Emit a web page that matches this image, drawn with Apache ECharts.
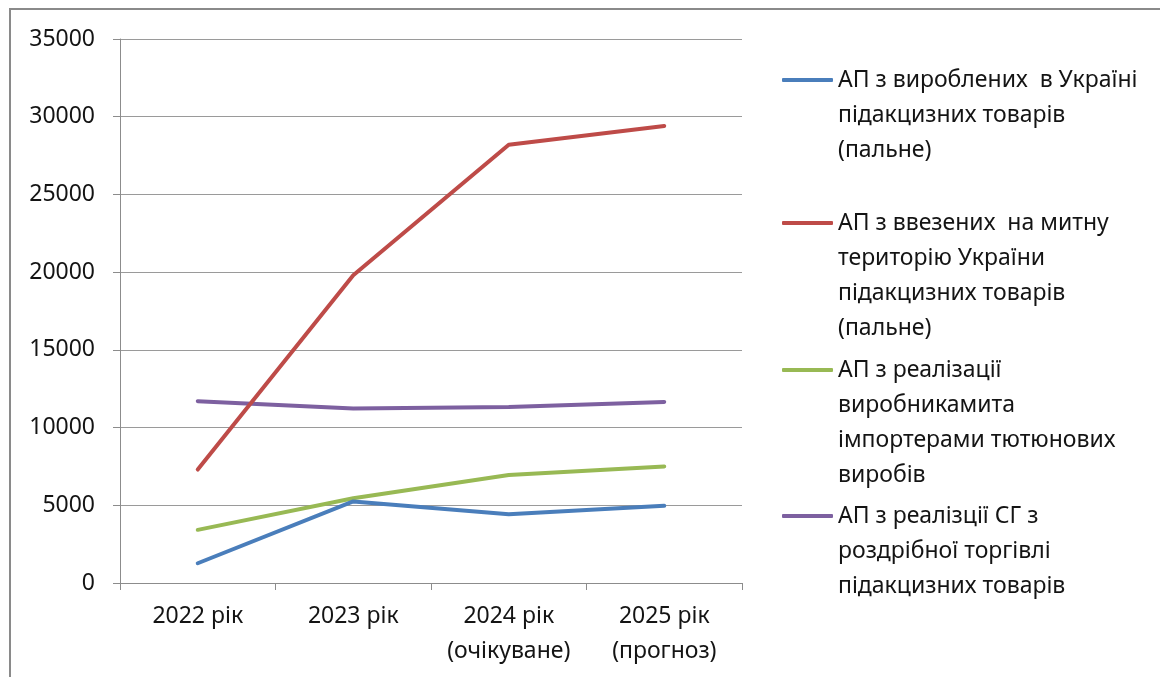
<!DOCTYPE html>
<html>
<head>
<meta charset="utf-8">
<script src="https://cdn.jsdelivr.net/npm/echarts@6/dist/echarts.min.js"></script>
<style>
    html, body { margin: 0; padding: 0; background: #fff; }
    #chart { width: 1160px; height: 677px; }
</style>
</head>
<body>
<div id="chart"></div>
<script>
const YEARS = ["2022 рік", "2023 рік", "2024 рік\n(очікуване)", "2025 рік\n(прогноз)"];
const NAMES = [
    "АП з вироблених  в Україні\nпідакцизних товарів\n(пальне)",
    "АП з ввезених  на митну\nтериторію України\nпідакцизних товарів\n(пальне)",
    "АП з реалізації\nвиробникамита\nімпортерами тютюнових\nвиробів",
    "АП з реалізції СГ з\nроздрібної торгівлі\nпідакцизних товарів",
];
const COLORS = ["#4a7ebb", "#be4b48", "#98b954", "#7d60a0"];
const domestic = [1270, 5250, 4420, 4970];
const imported = [7300, 19800, 28200, 29400];
const tobacco = [3420, 5450, 6950, 7500];
const retail = [11700, 11220, 11320, 11650];
const SERIES_DATA = [domestic, imported, tobacco, retail];

const FONT = "Noto Sans";
const FONT_SIZE = 23;
const LINE_H = 35;
const LEGEND_Y = [80, 223, 370, 516]; // centre of first text line

const chart = echarts.init(document.getElementById("chart"));

// legend text is centred on the icon, so pad the top with empty lines
// to line the icon up with the first line of each entry
const legends = NAMES.map((name, i) => {
    const n = name.split("\n").length;
    return {
        data: [name],
        orient: "vertical",
        left: 782,
        top: LEGEND_Y[i] - (2 * n - 1) * LINE_H / 2,
        padding: 0,
        icon: "roundRect",
        itemWidth: 51,
        itemHeight: 4,
        selectedMode: false,
        formatter: (s) => "\n".repeat(n - 1) + s,
        textStyle: {
            fontFamily: FONT,
            fontSize: FONT_SIZE,
            color: "#141414",
            lineHeight: LINE_H,
        },
    };
});

chart.setOption({
    animation: false,
    backgroundColor: "#fff",
    textStyle: { fontFamily: FONT },
    graphic: [{
        type: "rect",
        shape: { x: 10, y: 9, width: 1300, height: 800 },
        style: { fill: "none", stroke: "#8a8a8a", lineWidth: 2 },
        silent: true,
    }],
    legend: legends,
    grid: { left: 120, right: 418, top: 39, bottom: 94 },
    xAxis: {
        type: "category",
        data: YEARS,
        boundaryGap: true,
        axisLine: { lineStyle: { color: "#8c8c8c", width: 1 } },
        axisTick: { show: true, length: 7, lineStyle: { color: "#8c8c8c" } },
        axisLabel: {
            color: "#141414",
            fontFamily: FONT,
            fontSize: FONT_SIZE,
            lineHeight: LINE_H,
            margin: 16,
            interval: 0,
        },
    },
    yAxis: {
        type: "value",
        min: 0,
        max: 35000,
        interval: 5000,
        axisLine: { show: true, lineStyle: { color: "#8c8c8c", width: 1 } },
        axisTick: { show: true, length: 7, lineStyle: { color: "#8c8c8c" } },
        axisLabel: {
            color: "#141414",
            fontFamily: FONT,
            fontSize: FONT_SIZE,
            margin: 25,
            formatter: (v) => String(v),
        },
        splitLine: { lineStyle: { color: "#9a9a9a", width: 1 } },
    },
    series: NAMES.map((name, i) => ({
        name,
        type: "line",
        data: SERIES_DATA[i],
        showSymbol: false,
        symbol: "none",
        color: COLORS[i],
        lineStyle: { color: COLORS[i], width: 4, cap: "round", join: "round" },
        z: i === 0 ? 6 : 5 - i,
    })),
});
</script>
</body>
</html>
